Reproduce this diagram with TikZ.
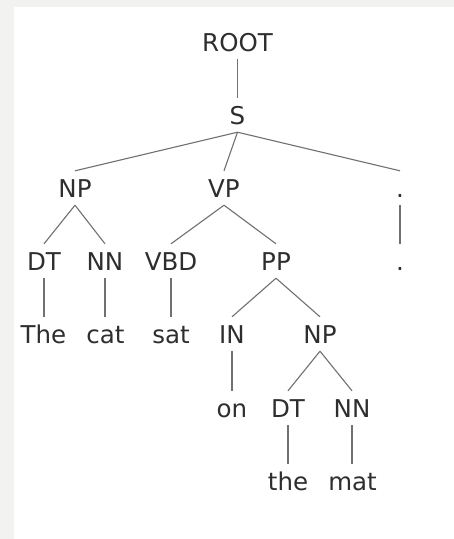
\documentclass[tikz,border=0pt]{standalone}
\usepackage{fontspec}
\setmainfont{DejaVu Sans}
\definecolor{bggray}{HTML}{F2F2F0}
\definecolor{txt}{HTML}{2E2E2E}
\definecolor{edge}{HTML}{707070}
\begin{document}
\begin{tikzpicture}[x=1pt,y=-1pt,
  lbl/.style={inner sep=0pt,minimum height=34pt,text height=18pt,text depth=0pt,
    text=txt,font=\fontsize{24.5}{29}\selectfont},
  br/.style={draw=edge,line width=1.1pt}]
\useasboundingbox (0,0) rectangle (454,539);
\fill[bggray] (0,0) rectangle (454,539);
\fill[white] (14,7) rectangle (454,539);
\node[lbl] (root) at (237.5,42) {ROOT};
\node[lbl] (s) at (237.5,115) {S};
\node[lbl] (np1) at (75,188) {NP};
\node[lbl] (vp) at (224,188) {VP};
\node[lbl] (dot1) at (400,188) {.};
\node[lbl] (dt1) at (44,261) {DT};
\node[lbl] (nn1) at (105,261) {NN};
\node[lbl] (vbd) at (171,261) {VBD};
\node[lbl] (pp) at (276,261) {PP};
\node[lbl] (dot2) at (400,261) {.};
\node[lbl] (the1) at (43.5,334) {The};
\node[lbl] (cat) at (105.5,334) {cat};
\node[lbl] (sat) at (171,334) {sat};
\node[lbl] (in) at (232,334) {IN};
\node[lbl] (np2) at (320,334) {NP};
\node[lbl] (on) at (232,408) {on};
\node[lbl] (dt2) at (288,408) {DT};
\node[lbl] (nn2) at (352,408) {NN};
\node[lbl] (the2) at (288,481) {the};
\node[lbl] (mat) at (352.5,481) {mat};
\draw[br] (root.south) -- (s.north);
\draw[br] (s.south) -- (np1.north);
\draw[br] (s.south) -- (vp.north);
\draw[br] (s.south) -- (dot1.north);
\draw[br] (np1.south) -- (dt1.north);
\draw[br] (np1.south) -- (nn1.north);
\draw[br] (vp.south) -- (vbd.north);
\draw[br] (vp.south) -- (pp.north);
\draw[br] (dot1.south) -- (dot2.north);
\draw[br] (dt1.south) -- (dt1.south |- the1.north);
\draw[br] (nn1.south) -- (nn1.south |- cat.north);
\draw[br] (vbd.south) -- (sat.north);
\draw[br] (pp.south) -- (in.north);
\draw[br] (pp.south) -- (np2.north);
\draw[br] (in.south) -- (on.north);
\draw[br] (np2.south) -- (dt2.north);
\draw[br] (np2.south) -- (nn2.north);
\draw[br] (dt2.south) -- (the2.north);
\draw[br] (nn2.south) -- (nn2.south |- mat.north);
\end{tikzpicture}
\end{document}
